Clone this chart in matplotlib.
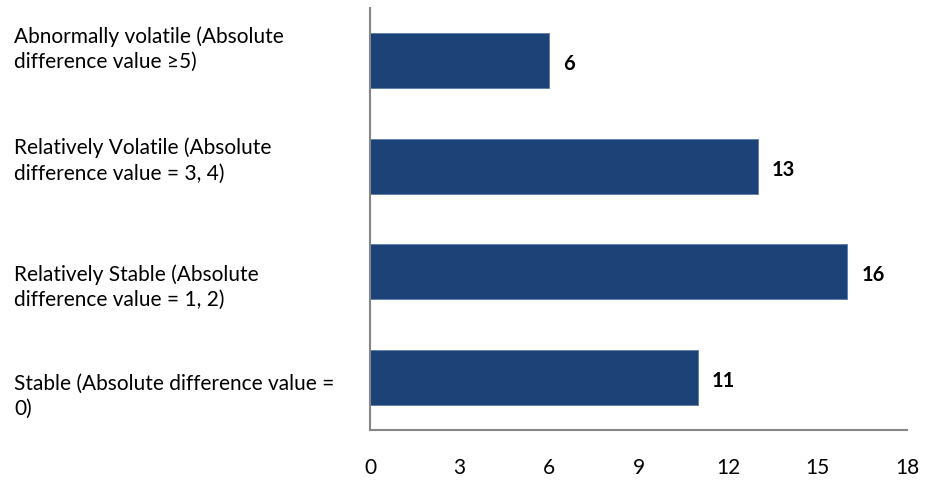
import matplotlib
matplotlib.use("Agg")
import matplotlib.pyplot as plt

plt.rcParams['font.family'] = ['Lato', 'DejaVu Sans']

categories = [
    "Stable (Absolute difference value =\n0)",
    "Relatively Stable (Absolute\ndifference value = 1, 2)",
    "Relatively Volatile (Absolute\ndifference value = 3, 4)",
    "Abnormally volatile (Absolute\ndifference value \u22655)",
]
values = [11, 16, 13, 6]
xticks = [0, 3, 6, 9, 12, 15, 18]

bar_color = "#1C4278"
axis_color = "#868686"

fig = plt.figure(figsize=(9.25, 4.84), dpi=100)
ax = fig.add_axes([370 / 925, 1 - 430 / 484, (907 - 370) / 925, (430 - 8) / 484])

pos = list(range(len(categories)))
ax.barh(pos, values, height=0.52, color=bar_color, edgecolor="#5B7BA8", linewidth=0.6)

for p, v in zip(pos, values):
    ax.annotate(str(v), (v, p), xytext=(10, -2.5), textcoords="offset points",
                ha="left", va="center", fontsize=14.5, fontweight="bold", color="black")

ax.set_xlim(0, 18)
ax.set_ylim(-0.5, len(categories) - 0.5)
ax.set_xticks(xticks)
ax.set_xticklabels([str(t) for t in xticks], fontsize=15)
ax.set_yticks(pos)
ax.set_yticklabels([])
ax.tick_params(axis="y", length=0)
ax.tick_params(axis="x", length=0, pad=20)

# category labels, left-aligned at the figure edge; vertical nudge in pixels (+ is down)
label_shift_px = [19.5, 15.5, -5.5, -11.5]
for p, cat, dy in zip(pos, categories, label_shift_px):
    ax.annotate(cat, xy=(14 / 925, p), xycoords=("figure fraction", "data"),
                xytext=(0, -dy * 0.72), textcoords="offset points",
                ha="left", va="center", fontsize=15, linespacing=1.32, color="black",
                annotation_clip=False)

for side in ["top", "right"]:
    ax.spines[side].set_visible(False)
for side in ["left", "bottom"]:
    ax.spines[side].set_color(axis_color)
    ax.spines[side].set_linewidth(1.5)

fig.savefig("out.png", dpi=100)
